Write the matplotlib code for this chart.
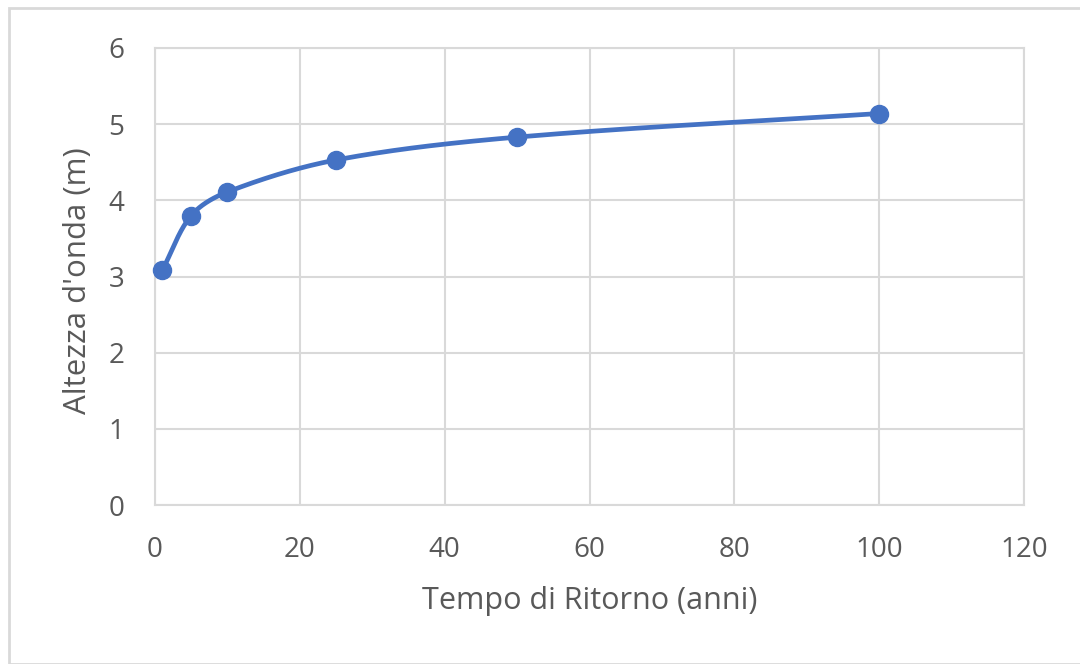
import numpy as np
import matplotlib
matplotlib.use("Agg")
import matplotlib.pyplot as plt
from matplotlib.patches import Rectangle

# Data
tempo_ritorno = [1, 5, 10, 25, 50, 100]
altezza_onda = [3.08, 3.80, 4.11, 4.53, 4.83, 5.14]
x_ticks = [0, 20, 40, 60, 80, 100, 120]
y_ticks = [0, 1, 2, 3, 4, 5, 6]
x_label = "Tempo di Ritorno (anni)"
y_label = "Altezza d'onda (m)"

plt.rcParams['font.family'] = ['Open Sans', 'DejaVu Sans']
text_color = '#595959'
grid_color = '#d9d9d9'
line_color = '#4472C4'

fig = plt.figure(figsize=(10.8, 6.64), dpi=100)
ax = fig.add_axes([155/1080, 1-505/664, (1024-155)/1080, (505-48)/664])

# outer chart border
fig.patches.append(Rectangle((9/1080, 0), 1.2, 1-8/664, transform=fig.transFigure,
                             fill=False, edgecolor='#d9d9d9', linewidth=2.0, zorder=0))

ax.set_xlim(0, 120)
ax.set_ylim(0, 6)

# Excel-like smoothed line (Bezier in pixel-like space)
xs = np.array(tempo_ritorno, dtype=float)
ys = np.array(altezza_onda, dtype=float)
sx, sy = 869/120.0, 457/6.0
P = np.column_stack([xs * sx, ys * sy])
n = len(P)
curve = []
for i in range(n - 1):
    p0 = P[i - 1] if i > 0 else P[i]
    p1 = P[i]
    p2 = P[i + 1]
    p3 = P[i + 2] if i + 2 < n else P[i + 1]
    d01 = np.linalg.norm(p1 - p0)
    d12 = np.linalg.norm(p2 - p1)
    d23 = np.linalg.norm(p3 - p2)
    c1 = p1 + (p2 - p0) * d12 / (3.0 * (d01 + d12))
    c2 = p2 - (p3 - p1) * d12 / (3.0 * (d12 + d23))
    t = np.linspace(0, 1, 80)[:, None]
    seg = ((1 - t) ** 3) * p1 + 3 * ((1 - t) ** 2) * t * c1 + 3 * (1 - t) * t ** 2 * c2 + t ** 3 * p2
    curve.append(seg if i == 0 else seg[1:])
curve = np.vstack(curve)
ax.plot(curve[:, 0] / sx, curve[:, 1] / sy, color=line_color, linewidth=3.4,
        solid_capstyle='round', zorder=3, clip_on=False)
ax.plot(tempo_ritorno, altezza_onda, linestyle='none', marker='o', markersize=13,
        color=line_color, zorder=4, clip_on=False)

ax.set_xticks(x_ticks)
ax.set_yticks(y_ticks)
ax.grid(True, color=grid_color, linewidth=1.5)
ax.set_axisbelow(True)
for s in ax.spines.values():
    s.set_color(grid_color)
    s.set_linewidth(1.5)
ax.tick_params(length=0, labelsize=20, colors=text_color)
ax.tick_params(axis='x', pad=22)
ax.tick_params(axis='y', pad=22)
ax.set_xlabel(x_label, fontsize=22, color=text_color, labelpad=16)
ax.set_ylabel(y_label, fontsize=22.5, color=text_color)
ax.yaxis.set_label_coords(-0.071, 0.49)

fig.savefig("out.png", dpi=100)
